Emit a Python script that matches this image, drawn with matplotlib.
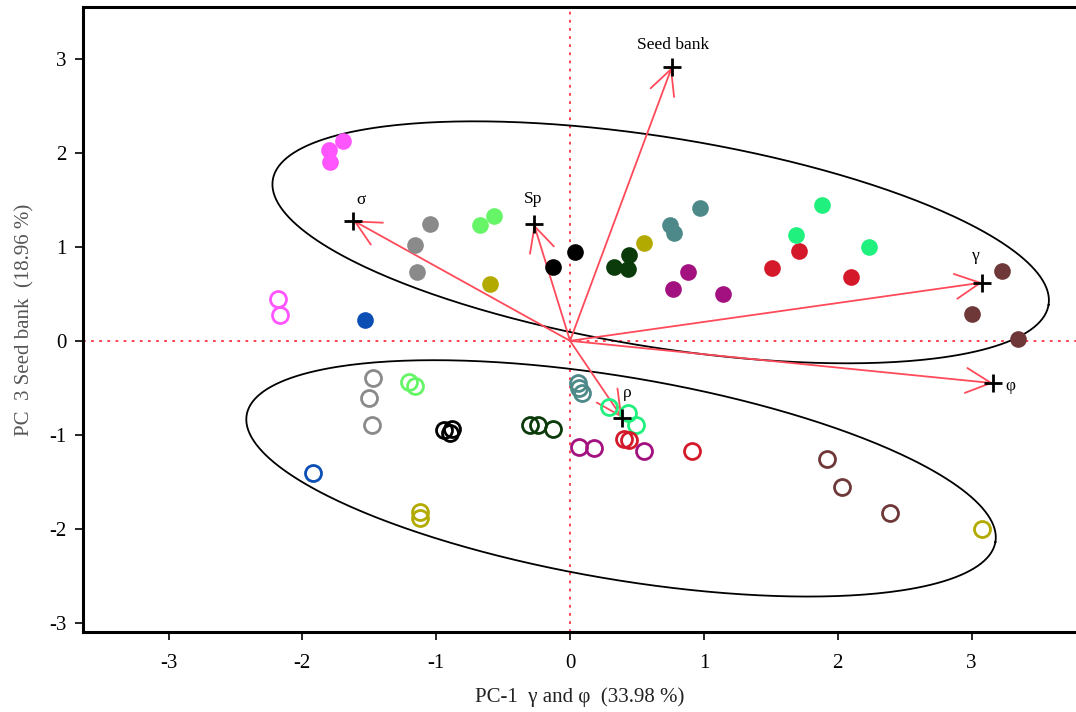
import numpy as np
import matplotlib
matplotlib.use("Agg")
import matplotlib.pyplot as plt

plt.rcParams['font.family'] = ['Liberation Serif', 'DejaVu Serif']
plt.rcParams['axes.unicode_minus'] = False

# ---------------- data ----------------
colors = {
    'magenta': '#FF55FF', 'gray': '#8A8A8A', 'lightgreen': '#66F566',
    'olive': '#B3AA00', 'black': '#000000', 'darkgreen': '#0B3A0B',
    'teal': '#4E898A', 'purple': '#A3107F', 'red': '#D41A2A',
    'spring': '#20F07E', 'brown': '#6E3838', 'blue': '#0B4FB5',
}

# filled points (upper group)
filled_group = ['magenta', 'magenta', 'magenta', 'gray', 'gray', 'gray',
                'lightgreen', 'lightgreen', 'olive', 'olive', 'black', 'black',
                'darkgreen', 'darkgreen', 'darkgreen', 'teal', 'teal', 'teal',
                'purple', 'purple', 'purple', 'red', 'red', 'red',
                'spring', 'spring', 'spring', 'brown', 'brown', 'brown', 'blue']
filled_x = [-1.70, -1.80, -1.79, -1.05, -1.16, -1.14,
            -0.67, -0.57, -0.60, 0.55, -0.13, 0.04,
            0.33, 0.44, 0.43, 0.75, 0.78, 0.97,
            0.88, 0.77, 1.14, 1.51, 1.71, 2.10,
            1.69, 1.88, 2.23, 3.23, 3.00, 3.35, -1.53]
filled_y = [2.13, 2.03, 1.90, 1.24, 1.02, 0.73,
            1.23, 1.33, 0.60, 1.04, 0.79, 0.94,
            0.79, 0.91, 0.76, 1.23, 1.15, 1.41,
            0.73, 0.55, 0.50, 0.77, 0.96, 0.68,
            1.13, 1.45, 1.00, 0.74, 0.29, 0.02, 0.22]

# open points (lower group)
open_group = ['magenta', 'magenta', 'gray', 'gray', 'gray',
              'lightgreen', 'lightgreen', 'black', 'black', 'black',
              'darkgreen', 'darkgreen', 'darkgreen', 'teal', 'teal', 'teal',
              'spring', 'spring', 'spring', 'red', 'red', 'red',
              'purple', 'purple', 'purple', 'blue', 'olive', 'olive',
              'brown', 'brown', 'brown', 'olive']
open_x = [-2.18, -2.17, -1.47, -1.50, -1.48,
          -1.20, -1.16, -0.94, -0.90, -0.88,
          -0.30, -0.24, -0.13, 0.06, 0.07, 0.09,
          0.29, 0.43, 0.49, 0.40, 0.44, 0.91,
          0.07, 0.18, 0.55, -1.92, -1.12, -1.12,
          1.92, 2.03, 2.39, 3.08]
open_y = [0.45, 0.27, -0.40, -0.61, -0.90,
          -0.44, -0.48, -0.95, -0.98, -0.94,
          -0.89, -0.90, -0.94, -0.45, -0.50, -0.55,
          -0.70, -0.77, -0.90, -1.04, -1.06, -1.17,
          -1.13, -1.14, -1.17, -1.41, -1.82, -1.88,
          -1.26, -1.55, -1.83, -2.00]

# loading vectors
vec_names = ['Seed bank', 'σ', 'Sp', 'γ', 'φ', 'ρ']
vec_x = [0.76, -1.62, -0.27, 3.08, 3.16, 0.39]
vec_y = [2.91, 1.28, 1.24, 0.62, -0.45, -0.82]
vec_label_x = [0.77, -1.56, -0.28, 3.03, 3.29, 0.43]
vec_label_y = [3.15, 1.50, 1.51, 0.90, -0.48, -0.55]

# ellipses: center, semi-major vector, semi-minor vector (data units)
ell_center = [(0.677, 1.048), (0.381, -1.463)]
ell_major = [(2.898, -0.665), (2.797, -0.676)]
ell_minor = [(0.125, 1.102), (0.127, 1.060)]

xticks = [-3, -2, -1, 0, 1, 2, 3]
yticks = [-3, -2, -1, 0, 1, 2, 3]
xlabel = 'PC-1  γ and φ  (33.98 %)'
ylabel = 'PC  3 Seed bank  (18.96 %)'

# ---------------- plot ----------------
fig = plt.figure(figsize=(10.76, 7.12), dpi=100)
ax = fig.add_axes([0.077, 0.112, 0.923, 0.878])
ax.set_xlim(-3.64, 3.78)
ax.set_ylim(-3.10, 3.55)

# reference lines
ax.axhline(0, color='#FF3040', lw=1.3, ls=(0, (1.5, 3)), zorder=1)
ax.axvline(0, color='#FF3040', lw=1.3, ls=(0, (1.5, 3)), zorder=1)

# ellipses
t = np.linspace(0, 2 * np.pi, 400)
for c, a, b in zip(ell_center, ell_major, ell_minor):
    ex = c[0] + a[0] * np.cos(t) + b[0] * np.sin(t)
    ey = c[1] + a[1] * np.cos(t) + b[1] * np.sin(t)
    ax.plot(ex, ey, color='black', lw=1.3, zorder=2)

# vectors
for name, vx, vy, lx, ly in zip(vec_names, vec_x, vec_y, vec_label_x, vec_label_y):
    ax.annotate('', xy=(vx, vy), xytext=(0, 0),
                arrowprops=dict(arrowstyle='->,head_length=0.9,head_width=0.45',
                                color='#FF4A5A', lw=1.3, mutation_scale=20,
                                shrinkA=0, shrinkB=0), zorder=3)
    ax.plot(vx, vy, marker='+', color='black', ms=13, mew=2.0, zorder=5)
    ax.text(lx, ly, name, ha='center', va='center', fontsize=12.5,
            color='black', zorder=6)

# points
for g, x, y in zip(filled_group, filled_x, filled_y):
    ax.plot(x, y, 'o', color=colors[g], ms=12, mec='none', zorder=4)
for g, x, y in zip(open_group, open_x, open_y):
    ax.plot(x, y, 'o', mfc='none', mec=colors[g], ms=11.5, mew=2.0, zorder=4)

ax.set_xticks(xticks)
ax.set_yticks(yticks)
ax.tick_params(direction='out', length=6, width=1.2, labelsize=15, pad=6)
ax.tick_params(axis='x', pad=10)
for s in ['left', 'bottom', 'top']:
    ax.spines[s].set_linewidth(2.2)
ax.spines['right'].set_visible(False)

ax.set_xlabel(xlabel, fontsize=15, color='#222222', labelpad=10)
ax.set_ylabel(ylabel, fontsize=15, color='#555555', labelpad=10)

fig.savefig('out.png', dpi=100)
